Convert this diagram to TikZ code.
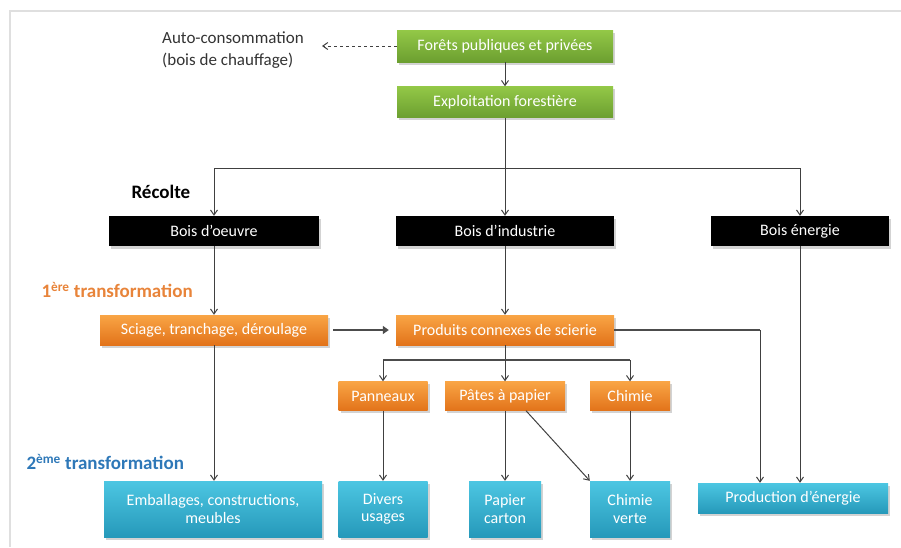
\documentclass[tikz,border=0pt]{standalone}
\usepackage{fontspec}
\setmainfont{Carlito}
\usetikzlibrary{arrows.meta,shadows,calc}
\definecolor{gtop}{HTML}{93C847}
\definecolor{gbot}{HTML}{6C9F30}
\definecolor{otop}{HTML}{F9A545}
\definecolor{obot}{HTML}{E2731A}
\definecolor{btop}{HTML}{4CC6E2}
\definecolor{bbot}{HTML}{2699BA}
\definecolor{arrowc}{HTML}{404040}
\definecolor{orlabel}{HTML}{E8843A}
\definecolor{bllabel}{HTML}{2E78B8}
\tikzset{
  box/.style={rectangle, text=white, align=center, inner sep=1pt,
     font=\fontsize{16}{17.5}\selectfont,
     drop shadow={shadow xshift=2pt, shadow yshift=-2.5pt, opacity=0.35}},
  greenbox/.style={box, top color=gtop, bottom color=gbot},
  orangebox/.style={box, top color=otop, bottom color=obot},
  bluebox/.style={box, top color=btop, bottom color=bbot},
  blackbox/.style={box, fill=black},
  arr/.style={draw=arrowc, line width=1pt, -{Straight Barb[length=5pt,width=7pt]}},
  link/.style={draw=arrowc, line width=1pt},
  pipe/.style={draw=gray!60!black, line width=2.4pt},
  pipearr/.style={pipe, -{Triangle[length=6pt,width=8pt]}},
  lbl/.style={font=\fontsize{19}{21}\selectfont\bfseries, anchor=west},
}
\begin{document}
\begin{tikzpicture}[x=1pt,y=-1pt]
\useasboundingbox (0,0) rectangle (901,547);
% faint frame
\draw[gray!25, line width=1.5pt] (901,11) -- (10,11) -- (10,547);

% top
\node[greenbox, minimum width=216, minimum height=32] (foret) at (505,46) {Forêts publiques et privées};
\node[greenbox, minimum width=216, minimum height=31] (exploit) at (505,102) {Exploitation forestière};
\node[anchor=west, align=left, inner sep=0pt, text=black!80, font=\fontsize{17}{22}\selectfont] (auto) at (162,50) {Auto-consommation\\(bois de chauffage)};
\coordinate (autoend) at (322,46);
\draw[arr, dashed] (foret.west) -- (autoend);
\draw[arr] (foret) -- (exploit);

% recolte
\node[lbl, text=black] (recolte) at (128,192) {Récolte};
\node[blackbox, minimum width=210, minimum height=30] (oeuvre) at (214,231) {Bois d’oeuvre};
\node[blackbox, minimum width=218, minimum height=30] (industrie) at (505,231) {Bois d’industrie};
\node[blackbox, minimum width=178, minimum height=30] (energie) at (800,231) {Bois énergie};
\coordinate (split) at (505,168);
\draw[arr] (exploit) -- (industrie);
\draw[arr] (split) -| (oeuvre.north);
\draw[arr] (split) -| (energie.north);

% 1ere transformation
\node[lbl, text=orlabel] (t1) at (38,290) {1\textsuperscript{ère} transformation};
\node[orangebox, minimum width=228, minimum height=30] (sciage) at (214,330) {Sciage, tranchage, déroulage};
\node[orangebox, minimum width=218, minimum height=30] (produits) at (505,330) {Produits connexes de scierie};
\draw[arr] (oeuvre) -- (sciage);
\draw[arr] (industrie) -- (produits);
\draw[pipearr, shorten <=5pt, shorten >=7pt] (sciage) -- (produits);

\node[orangebox, minimum width=89, minimum height=29] (panneaux) at (383,396) {Panneaux};
\node[orangebox, minimum width=120, minimum height=29] (pates) at (505,396) {Pâtes à papier};
\node[orangebox, minimum width=80, minimum height=29] (chimie) at (630,396) {Chimie};
\coordinate (branch) at (505,360);
\draw[link] (produits) -- (branch);
\draw[pipe] (panneaux.north |- branch) -- (chimie.north |- branch);
\draw[arr] (branch) -- (pates);
\draw[arr] (branch -| panneaux) -- (panneaux);
\draw[arr] (branch -| chimie) -- (chimie);

% 2eme transformation
\node[lbl, text=bllabel] (t2) at (23,462) {2\textsuperscript{ème} transformation};
\node[bluebox, minimum width=218, minimum height=56] (emb) at (213,509) {Emballages, constructions,\\meubles};
\node[bluebox, minimum width=89, minimum height=56] (divers) at (383,509) {Divers\\usages};
\node[bluebox, minimum width=72, minimum height=56] (papier) at (505,509) {Papier\\carton};
\node[bluebox, minimum width=80, minimum height=56] (verte) at (630,509) {Chimie\\verte};
\node[bluebox, minimum width=190, minimum height=30] (prod) at (793,498) {Production d’énergie};

\draw[arr] (sciage) -- (sciage |- emb.north);
\draw[arr] (panneaux) -- (divers);
\draw[arr] (pates) -- (papier);
\draw[arr] (chimie) -- (verte);
\draw[arr] ($(pates.south)+(21,0)$) -- (verte.north west);
\coordinate (pin) at (760,0);
\draw[pipe] (produits.east) -- (pin |- produits.east);
\draw[arr] (pin |- produits.east) -- (pin |- prod.north);
\draw[arr] (energie) -- (energie |- prod.north);
\end{tikzpicture}
\end{document}
